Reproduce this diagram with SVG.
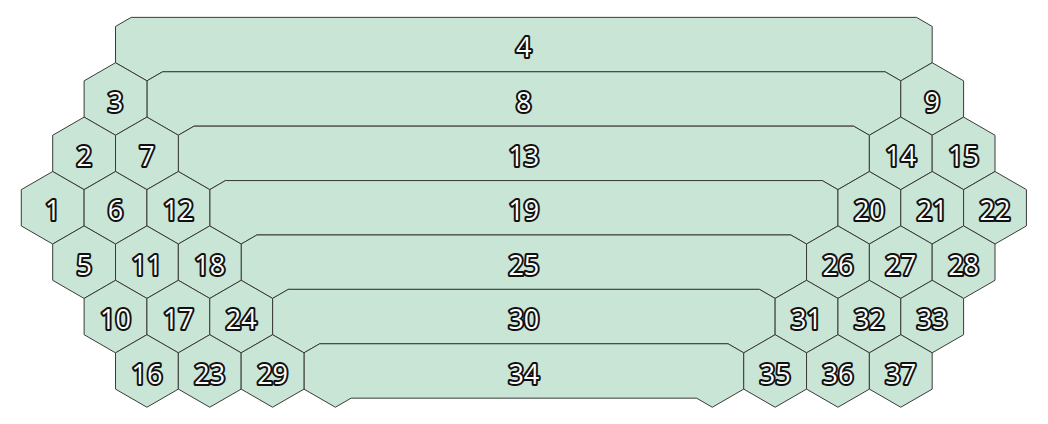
<svg xmlns="http://www.w3.org/2000/svg" xmlns:xlink="http://www.w3.org/1999/xlink" width="1048" height="424" viewBox="0 0 1048 424">
<style>
.c{fill:#c9e5d5;stroke:#3a3a3a;stroke-width:1;stroke-linejoin:miter}
text{font-family:"Open Sans","Noto Sans","DejaVu Sans",sans-serif;font-size:27px;fill:#ffffff;stroke:#111111;stroke-width:4px;paint-order:stroke;stroke-linejoin:round;text-anchor:middle}
</style>
<defs>
<polygon id="hex" class="c" points="0,-36.27 31.41,-18.14 31.41,18.14 0,36.27 -31.41,18.14 -31.41,-18.14"/>
</defs>
<rect width="1048" height="424" fill="#ffffff"/>
<g id="n4" transform="translate(146.93,44.57)"><path class="c" d="M-31.41,-18.14 L-15.71,-27.2 L769.55,-27.2 L785.25,-18.14 L785.25,18.14 L753.84,36.27 L738.13,27.2 L15.71,27.2 L0,36.27 L-31.41,18.14 Z"/><text x="376.92" y="12.6">4</text></g>
<g id="n8" transform="translate(178.34,98.97)"><path class="c" d="M-31.41,-18.14 L-15.71,-27.2 L706.73,-27.2 L722.43,-18.14 L722.43,18.14 L691.02,36.27 L675.31,27.2 L15.71,27.2 L0,36.27 L-31.41,18.14 Z"/><text x="345.51" y="12.6">8</text></g>
<g id="n13" transform="translate(209.75,153.37)"><path class="c" d="M-31.41,-18.14 L-15.71,-27.2 L643.91,-27.2 L659.61,-18.14 L659.61,18.14 L628.2,36.27 L612.49,27.2 L15.71,27.2 L0,36.27 L-31.41,18.14 Z"/><text x="314.1" y="12.6">13</text></g>
<g id="n19" transform="translate(241.16,207.77)"><path class="c" d="M-31.41,-18.14 L-15.71,-27.2 L581.09,-27.2 L596.79,-18.14 L596.79,18.14 L565.38,36.27 L549.67,27.2 L15.71,27.2 L0,36.27 L-31.41,18.14 Z"/><text x="282.69" y="12.6">19</text></g>
<g id="n25" transform="translate(272.57,262.17)"><path class="c" d="M-31.41,-18.14 L-15.71,-27.2 L518.27,-27.2 L533.97,-18.14 L533.97,18.14 L502.56,36.27 L486.85,27.2 L15.71,27.2 L0,36.27 L-31.41,18.14 Z"/><text x="251.28" y="12.6">25</text></g>
<g id="n30" transform="translate(303.98,316.57)"><path class="c" d="M-31.41,-18.14 L-15.71,-27.2 L455.45,-27.2 L471.15,-18.14 L471.15,18.14 L439.74,36.27 L424.03,27.2 L15.71,27.2 L0,36.27 L-31.41,18.14 Z"/><text x="219.87" y="12.6">30</text></g>
<g id="n34" transform="translate(335.39,370.97)"><path class="c" d="M-31.41,-18.14 L-15.71,-27.2 L392.63,-27.2 L408.33,-18.14 L408.33,18.14 L376.92,36.27 L361.21,27.2 L15.71,27.2 L0,36.27 L-31.41,18.14 Z"/><text x="188.46" y="12.6">34</text></g>
<g id="n3" transform="translate(115.52,98.97)"><use href="#hex" xlink:href="#hex"/><text y="12.6">3</text></g>
<g id="n9" transform="translate(932.18,98.97)"><use href="#hex" xlink:href="#hex"/><text y="12.6">9</text></g>
<g id="n2" transform="translate(84.11,153.37)"><use href="#hex" xlink:href="#hex"/><text y="12.6">2</text></g>
<g id="n7" transform="translate(146.93,153.37)"><use href="#hex" xlink:href="#hex"/><text y="12.6">7</text></g>
<g id="n14" transform="translate(900.77,153.37)"><use href="#hex" xlink:href="#hex"/><text y="12.6">14</text></g>
<g id="n15" transform="translate(963.59,153.37)"><use href="#hex" xlink:href="#hex"/><text y="12.6">15</text></g>
<g id="n1" transform="translate(52.7,207.77)"><use href="#hex" xlink:href="#hex"/><text y="12.6">1</text></g>
<g id="n6" transform="translate(115.52,207.77)"><use href="#hex" xlink:href="#hex"/><text y="12.6">6</text></g>
<g id="n12" transform="translate(178.34,207.77)"><use href="#hex" xlink:href="#hex"/><text y="12.6">12</text></g>
<g id="n20" transform="translate(869.36,207.77)"><use href="#hex" xlink:href="#hex"/><text y="12.6">20</text></g>
<g id="n21" transform="translate(932.18,207.77)"><use href="#hex" xlink:href="#hex"/><text y="12.6">21</text></g>
<g id="n22" transform="translate(995,207.77)"><use href="#hex" xlink:href="#hex"/><text y="12.6">22</text></g>
<g id="n5" transform="translate(84.11,262.17)"><use href="#hex" xlink:href="#hex"/><text y="12.6">5</text></g>
<g id="n11" transform="translate(146.93,262.17)"><use href="#hex" xlink:href="#hex"/><text y="12.6">11</text></g>
<g id="n18" transform="translate(209.75,262.17)"><use href="#hex" xlink:href="#hex"/><text y="12.6">18</text></g>
<g id="n26" transform="translate(837.95,262.17)"><use href="#hex" xlink:href="#hex"/><text y="12.6">26</text></g>
<g id="n27" transform="translate(900.77,262.17)"><use href="#hex" xlink:href="#hex"/><text y="12.6">27</text></g>
<g id="n28" transform="translate(963.59,262.17)"><use href="#hex" xlink:href="#hex"/><text y="12.6">28</text></g>
<g id="n10" transform="translate(115.52,316.57)"><use href="#hex" xlink:href="#hex"/><text y="12.6">10</text></g>
<g id="n17" transform="translate(178.34,316.57)"><use href="#hex" xlink:href="#hex"/><text y="12.6">17</text></g>
<g id="n24" transform="translate(241.16,316.57)"><use href="#hex" xlink:href="#hex"/><text y="12.6">24</text></g>
<g id="n31" transform="translate(806.54,316.57)"><use href="#hex" xlink:href="#hex"/><text y="12.6">31</text></g>
<g id="n32" transform="translate(869.36,316.57)"><use href="#hex" xlink:href="#hex"/><text y="12.6">32</text></g>
<g id="n33" transform="translate(932.18,316.57)"><use href="#hex" xlink:href="#hex"/><text y="12.6">33</text></g>
<g id="n16" transform="translate(146.93,370.97)"><use href="#hex" xlink:href="#hex"/><text y="12.6">16</text></g>
<g id="n23" transform="translate(209.75,370.97)"><use href="#hex" xlink:href="#hex"/><text y="12.6">23</text></g>
<g id="n29" transform="translate(272.57,370.97)"><use href="#hex" xlink:href="#hex"/><text y="12.6">29</text></g>
<g id="n35" transform="translate(775.13,370.97)"><use href="#hex" xlink:href="#hex"/><text y="12.6">35</text></g>
<g id="n36" transform="translate(837.95,370.97)"><use href="#hex" xlink:href="#hex"/><text y="12.6">36</text></g>
<g id="n37" transform="translate(900.77,370.97)"><use href="#hex" xlink:href="#hex"/><text y="12.6">37</text></g>
</svg>
